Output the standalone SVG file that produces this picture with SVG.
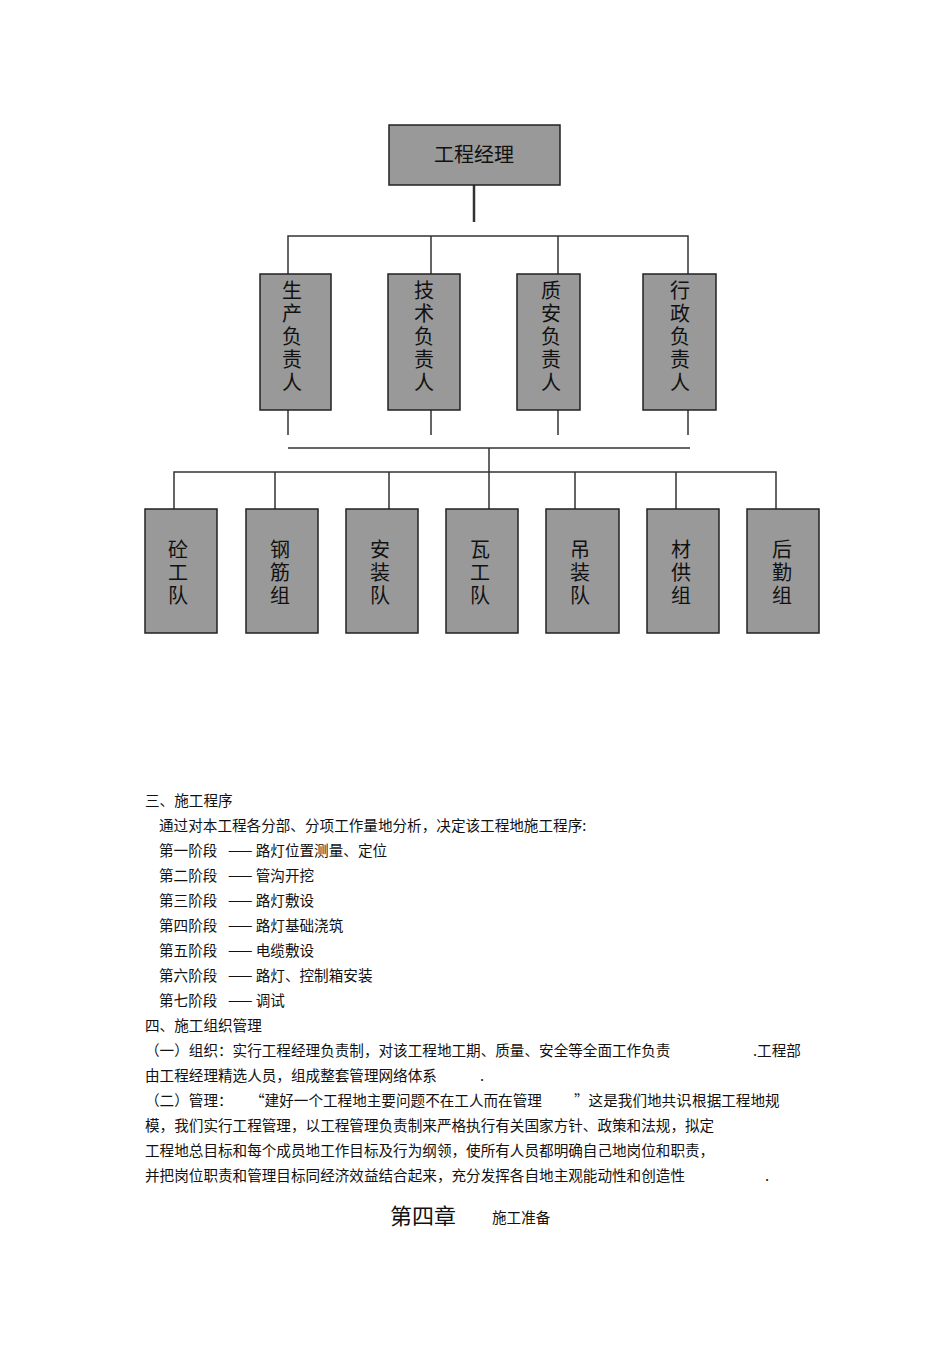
<svg xmlns="http://www.w3.org/2000/svg" width="950" height="1345" viewBox="0 0 950 1345">
<style>
.b{fill:#999;stroke:#222;stroke-width:1.5}
.n{font-family:"Noto Sans CJK SC",sans-serif;font-size:20px;fill:#111;text-anchor:middle}
.c{stroke:#333;stroke-width:1.5;fill:none}
.t{font-family:"Noto Sans CJK SC",sans-serif;font-size:14.6px;fill:#111}
</style>
<rect width="950" height="1345" fill="#fff"/>
<g id="connectors">
<path class="c" d="M474 185V222" style="stroke-width:2.5"/>
<path class="c" d="M288 274V236H688V274M431 236V274M558 236V274"/>
<path class="c" d="M288 410V435M431 410V435M558 410V435M688 410V435"/>
<path class="c" d="M288 448H690M489 448V509M174 509V472H776V509M275 472V509M389 472V509M575 472V509M676 472V509"/>
</g>
<g id="n0"><rect class="b" x="389" y="125" width="171" height="60"/><text class="n" x="474" y="162">工程经理</text></g>
<g id="m1"><rect class="b" x="260" y="274" width="71" height="136"/><text class="n" x="292" y="298">生<tspan x="292" dy="23">产</tspan><tspan x="292" dy="23">负</tspan><tspan x="292" dy="23">责</tspan><tspan x="292" dy="23">人</tspan></text></g>
<g id="m2"><rect class="b" x="388" y="274" width="72" height="136"/><text class="n" x="424" y="298">技<tspan x="424" dy="23">术</tspan><tspan x="424" dy="23">负</tspan><tspan x="424" dy="23">责</tspan><tspan x="424" dy="23">人</tspan></text></g>
<g id="m3"><rect class="b" x="517" y="274" width="63" height="136"/><text class="n" x="551" y="298">质<tspan x="551" dy="23">安</tspan><tspan x="551" dy="23">负</tspan><tspan x="551" dy="23">责</tspan><tspan x="551" dy="23">人</tspan></text></g>
<g id="m4"><rect class="b" x="643" y="274" width="73" height="136"/><text class="n" x="680" y="298">行<tspan x="680" dy="23">政</tspan><tspan x="680" dy="23">负</tspan><tspan x="680" dy="23">责</tspan><tspan x="680" dy="23">人</tspan></text></g>
<g id="b1"><rect class="b" x="145" y="509" width="72" height="124"/><text class="n" x="178" y="557">砼<tspan x="178" dy="23">工</tspan><tspan x="178" dy="23">队</tspan></text></g>
<g id="b2"><rect class="b" x="246" y="509" width="72" height="124"/><text class="n" x="280" y="557">钢<tspan x="280" dy="23">筋</tspan><tspan x="280" dy="23">组</tspan></text></g>
<g id="b3"><rect class="b" x="346" y="509" width="72" height="124"/><text class="n" x="380" y="557">安<tspan x="380" dy="23">装</tspan><tspan x="380" dy="23">队</tspan></text></g>
<g id="b4"><rect class="b" x="446" y="509" width="72" height="124"/><text class="n" x="480" y="557">瓦<tspan x="480" dy="23">工</tspan><tspan x="480" dy="23">队</tspan></text></g>
<g id="b5"><rect class="b" x="546" y="509" width="73" height="124"/><text class="n" x="580" y="557">吊<tspan x="580" dy="23">装</tspan><tspan x="580" dy="23">队</tspan></text></g>
<g id="b6"><rect class="b" x="647" y="509" width="72" height="124"/><text class="n" x="681" y="557">材<tspan x="681" dy="23">供</tspan><tspan x="681" dy="23">组</tspan></text></g>
<g id="b7"><rect class="b" x="747" y="509" width="72" height="124"/><text class="n" x="782" y="557">后<tspan x="782" dy="23">勤</tspan><tspan x="782" dy="23">组</tspan></text></g>
<g class="t">
<text x="145" y="806">三、施工程序</text>
<text x="159" y="831">通过对本工程各分部、分项工作量地分析，决定该工程地施工程序:</text>
<text x="159" y="856">第一阶段<tspan x="228">—— 路灯位置测量、定位</tspan></text>
<text x="159" y="881">第二阶段<tspan x="228">—— 管沟开挖</tspan></text>
<text x="159" y="906">第三阶段<tspan x="228">—— 路灯敷设</tspan></text>
<text x="159" y="931">第四阶段<tspan x="228">—— 路灯基础浇筑</tspan></text>
<text x="159" y="956">第五阶段<tspan x="228">—— 电缆敷设</tspan></text>
<text x="159" y="981">第六阶段<tspan x="228">—— 路灯、控制箱安装</tspan></text>
<text x="159" y="1006">第七阶段<tspan x="228">—— 调试</tspan></text>
<text x="145" y="1031">四、施工组织管理</text>
<text x="145" y="1056">（一）组织：实行工程经理负责制，对该工程地工期、质量、安全等全面工作负责</text>
<text x="753" y="1056">.工程部</text>
<text x="145" y="1081">由工程经理精选人员，组成整套管理网络体系</text>
<text x="480" y="1081">.</text>
<text x="145" y="1106">（二）管理：</text>
<text x="250" y="1106">“建好一个工程地主要问题不在工人而在管理</text>
<text x="574" y="1106">”这是我们地共识</text>
<text x="688" y="1106">.根据工程地规</text>
<text x="145" y="1131">模，我们实行工程管理，以工程管理负责制来严格执行有关国家方针、政策和法规，拟定</text>
<text x="145" y="1156">工程地总目标和每个成员地工作目标及行为纲领，使所有人员都明确自己地岗位和职责，</text>
<text x="145" y="1181">并把岗位职责和管理目标同经济效益结合起来，充分发挥各自地主观能动性和创造性</text>
<text x="765" y="1181">.</text>
<text x="390" y="1224" style="font-size:22px">第四章</text>
<text x="492" y="1223">施工准备</text>
</g>
</svg>
